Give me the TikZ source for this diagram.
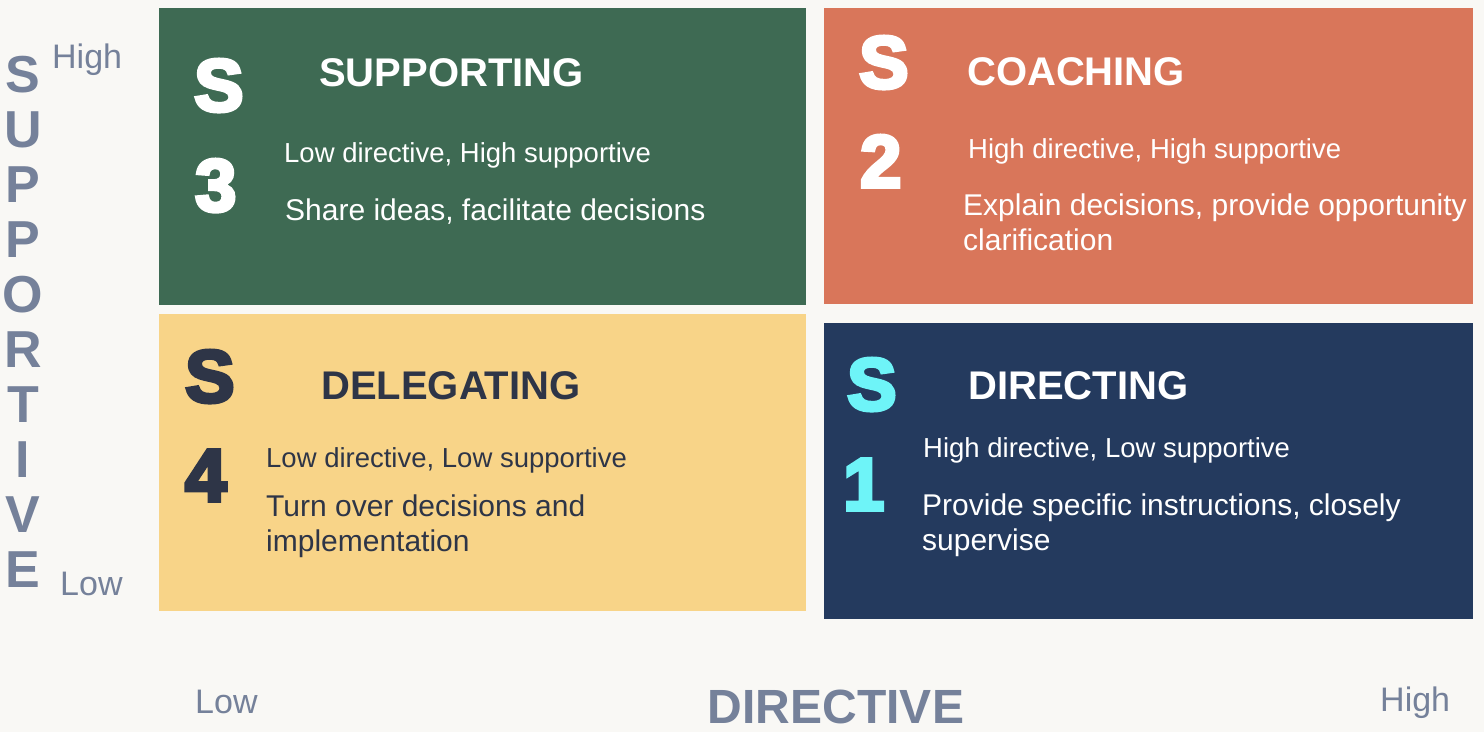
\documentclass[tikz,border=0pt]{standalone}
\usepackage{fontspec}
\setmainfont{Liberation Sans}
\newfontfamily\heavyfont[FakeBold=5]{Liberation Sans Bold}
\usepackage{tikz}
\definecolor{paper}{RGB}{249,248,245}
\definecolor{supportgreen}{RGB}{62,106,83}
\definecolor{coachorange}{RGB}{217,118,90}
\definecolor{delegateyellow}{RGB}{248,212,136}
\definecolor{directnavy}{RGB}{36,58,94}
\definecolor{inkdark}{RGB}{46,53,71}
\definecolor{brightcyan}{RGB}{110,244,248}
\definecolor{axisgray}{RGB}{117,129,154}

\begin{document}
\begin{tikzpicture}[
  x=1pt,y=-1pt,
  quad/.style={rectangle,inner sep=0pt,anchor=north west,minimum height=297pt},
  bigs/.style={anchor=base west,inner sep=0pt,font=\heavyfont\fontsize{74}{74}\selectfont},
  title/.style={anchor=base west,inner sep=0pt,font=\bfseries\fontsize{40}{40}\selectfont},
  rating/.style={anchor=base west,inner sep=0pt,font=\fontsize{27.5}{33}\selectfont},
  action/.style={anchor=base west,inner sep=0pt,align=left,font=\fontsize{30}{35}\selectfont},
  axislabel/.style={inner sep=0pt,text=axisgray,font=\fontsize{34}{34}\selectfont},
  axisletter/.style={anchor=base,inner sep=0pt,text=axisgray,font=\bfseries\fontsize{52}{52}\selectfont}
]
\fill[paper] (0,0) rectangle (1484,732);
\node[quad,fill=supportgreen,minimum width=647pt] (supporting) at (159,8) {};
\node[quad,fill=coachorange,minimum width=649pt,minimum height=296pt] (coaching) at (824,8) {};
\node[quad,fill=delegateyellow,minimum width=647pt] (delegating) at (159,314) {};
\node[quad,fill=directnavy,minimum width=649pt,minimum height=296pt] (directing) at (824,323) {};

\node[bigs,text=white] (sthreeS) at (194,111) {S};
\node[bigs,text=white] (sthreeN) at (195,211) {3};
\node[title,text=white] (sthreeT) at (319,86) {SUPPORTING};
\node[rating,text=white] (sthreeR) at (284,162) {Low directive, High supportive};
\node[action,text=white] (sthreeA) at (285,220) {Share ideas, facilitate decisions};

\node[bigs,text=white] (stwoS) at (859,88) {S};
\node[bigs,text=white] (stwoN) at (860,187) {2};
\node[title,text=white] (stwoT) at (967,85) {COACHING};
\node[rating,text=white] (stwoR) at (968,158) {High directive, High supportive};
\node[action,text=white] (stwoA) at (963,250) {Explain decisions, provide opportunity\\clarification};

\node[bigs,text=inkdark] (sfourS) at (185,402) {S};
\node[bigs,text=inkdark] (sfourN) at (185,501) {4};
\node[title,text=inkdark] (sfourT) at (321,399) {DELEGATING};
\node[rating,text=inkdark] (sfourR) at (266,467) {Low directive, Low supportive};
\node[action,text=inkdark] (sfourA) at (266,551) {Turn over decisions and\\implementation};

\node[bigs,text=brightcyan] (soneS) at (847,410) {S};
\node[bigs,text=brightcyan] (soneN) at (843,510) {1};
\node[title,text=white] (soneT) at (968,399) {DIRECTING};
\node[rating,text=white] (soneR) at (923,457) {High directive, Low supportive};
\node[action,text=white] (soneA) at (922,550) {Provide specific instructions, closely\\supervise};

\foreach \ch [count=\i from 0] in {S,U,P,P,O,R,T,I,V,E}
  \node[axisletter] (supp\i) at (23,92+55.1*\i) {\ch};
\node[axislabel,anchor=base west] (supphigh) at (52,68) {High};
\node[axislabel,anchor=base west] (supplow) at (60,595) {Low};
\node[axislabel,anchor=base west] (dirlow) at (195,713) {Low};
\node[axislabel,anchor=base west] (dirhigh) at (1380,711) {High};
\node[axislabel,anchor=base,font=\bfseries\fontsize{48}{48}\selectfont] (dirtitle) at (836,723) {DIRECTIVE};
\end{tikzpicture}
\end{document}
